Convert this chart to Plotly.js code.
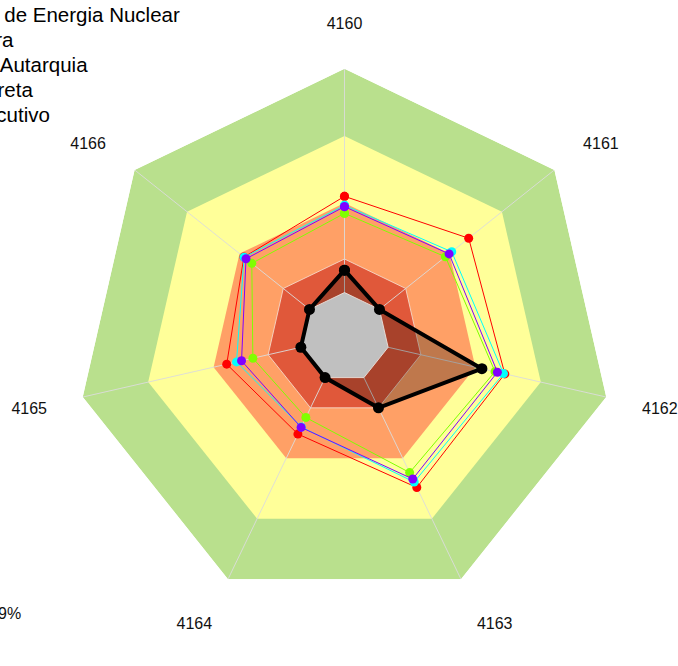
<!DOCTYPE html>
<html>
<head>
<meta charset="utf-8">
<script src="https://cdn.plot.ly/plotly-3.0.1.min.js"></script>
<style>
html,body{margin:0;padding:0;background:#fff;overflow:hidden;width:678px;height:666px;}
#chart{width:896px;height:666px;margin-left:-218px;}
</style>
</head>
<body>
<div id="chart"></div>
<script>
// ---- data ----
var categories = ['4160', '4161', '4162', '4163', '4164', '4165', '4166'];

var seriesNames = [
  'Comissão Nacional de Energia Nuclear',
  'Média da Sua Esfera',
  'Média da Natureza Autarquia',
  'Média da Adm. Indireta',
  'Média – Poder Executivo'
];
var nuclearValues   = [0.10, 0.00, 0.43, 0.15, 0.00, 0.00, 0.00];
var esferaValues    = [0.384, 0.398, 0.501, 0.503, 0.247, 0.272, 0.363];
var autarquiaValues = [0.354, 0.377, 0.490, 0.471, 0.198, 0.220, 0.330];
var indiretaValues  = [0.390, 0.413, 0.529, 0.518, 0.245, 0.295, 0.374];
var executivoValues = [0.430, 0.510, 0.535, 0.545, 0.280, 0.340, 0.375];

// band limits (outer edge of each band) and the inner hole limit
var bandLevels = [1.00, 0.70, 0.40, 0.15];
var holeLevel = 0.00;
var radialMin = -0.20;   // value shown at the centre of the chart
var footnoteText = '9%';

// ---- styles / geometry ----
var VIEW_W = 678, VIEW_H = 666, HIDDEN_LEFT = 218;
var bandColors = ['rgb(185,224,141)', 'rgb(255,255,153)', 'rgb(255,160,102)', 'rgb(224,88,58)'];
var holeColor = 'rgb(192,192,192)';
var FONT = 'Liberation Sans, Arial, sans-serif';

// radial axis starts at the chart centre (value radialMin)
function toR(v) { return v - radialMin; }
function closed(arr) { return arr.concat([arr[0]]); }
function closedR(vals) { return closed(vals.map(toR)); }
var thetaClosed = closed(categories);
function constant(v) { return categories.map(function () { return v; }); }

var traces = [];

// background bands
bandLevels.forEach(function (lvl, i) {
  traces.push({
    type: 'scatterpolar', mode: 'lines',
    r: closedR(constant(lvl)), theta: thetaClosed,
    fill: 'toself', fillcolor: bandColors[i],
    line: { color: i === 3 ? 'rgba(245,215,200,0.9)' : bandColors[i], width: i === 3 ? 1 : 0 },
    hoverinfo: 'skip', showlegend: false
  });
});

// spokes
var spokeR = [], spokeT = [];
categories.forEach(function (c) {
  spokeR.push(toR(radialMin), toR(bandLevels[0]), null);
  spokeT.push(c, c, null);
});
traces.push({
  type: 'scatterpolar', mode: 'lines', r: spokeR, theta: spokeT,
  line: { color: 'rgba(220,220,220,0.9)', width: 1 },
  connectgaps: false, hoverinfo: 'skip', showlegend: false
});

// fill of the organisation polygon
traces.push({
  type: 'scatterpolar', mode: 'lines',
  r: closedR(nuclearValues), theta: thetaClosed,
  fill: 'toself', fillcolor: 'rgba(0,0,0,0.25)', line: { width: 0, color: 'rgba(0,0,0,0)' },
  hoverinfo: 'skip', showlegend: false
});

// grey centre
traces.push({
  type: 'scatterpolar', mode: 'lines',
  r: closedR(constant(holeLevel)), theta: thetaClosed,
  fill: 'toself', fillcolor: holeColor,
  line: { color: 'rgba(235,225,220,0.9)', width: 1 },
  hoverinfo: 'skip', showlegend: false
});

function series(name, vals, color, lw, ms) {
  return {
    type: 'scatterpolar', mode: 'lines+markers', name: '<span style="font-size:20.5px">' + name + '</span>',
    r: closedR(vals), theta: thetaClosed,
    line: { color: color, width: lw },
    marker: { color: color, size: ms }
  };
}
// drawing order bottom -> top; legend shown reversed
traces.push(series(seriesNames[4], executivoValues, '#FF0000', 1, 9));
traces.push(series(seriesNames[3], indiretaValues, '#00FFFF', 1, 9));
traces.push(series(seriesNames[2], autarquiaValues, '#80FF00', 1, 9));
traces.push(series(seriesNames[1], esferaValues, '#8000FF', 1, 9));
traces.push(series(seriesNames[0], nuclearValues, '#000000', 4, 11));

var layout = {
  width: VIEW_W + HIDDEN_LEFT, height: VIEW_H, autosize: false,
  margin: { l: HIDDEN_LEFT, r: 0, t: 0, b: 0, autoexpand: false },
  paper_bgcolor: '#ffffff', plot_bgcolor: '#ffffff',
  font: { family: FONT, color: '#000000' },
  showlegend: true,
  legend: {
    x: -HIDDEN_LEFT / VIEW_W, xanchor: 'left', y: 1.004, yanchor: 'top',
    traceorder: 'reversed', bgcolor: 'rgba(0,0,0,0)',
    font: { family: FONT, size: 17, color: '#000000' }
  },
  polar: {
    domain: { x: [0.1121, 0.9041], y: [0.0904, 0.8967] },
    bgcolor: 'rgba(0,0,0,0)',
    gridshape: 'linear',
    radialaxis: { range: [0, toR(bandLevels[0])], visible: false, showgrid: false },
    angularaxis: {
      type: 'category', categoryorder: 'array', categoryarray: categories,
      direction: 'clockwise', rotation: 90,
      showgrid: false, showline: false,
      ticks: 'outside', ticklen: 33, tickcolor: 'rgba(0,0,0,0)',
      tickfont: { family: FONT, size: 16, color: '#111111' }
    }
  },
  annotations: [{
    xref: 'paper', yref: 'paper', x: 23 / VIEW_W, y: 1 - 613 / VIEW_H,
    xanchor: 'right', yanchor: 'middle', showarrow: false,
    text: footnoteText, font: { family: FONT, size: 16, color: '#111111' }
  }]
};

Plotly.newPlot('chart', traces, layout, { displayModeBar: false, staticPlot: true });
</script>
</body>
</html>
